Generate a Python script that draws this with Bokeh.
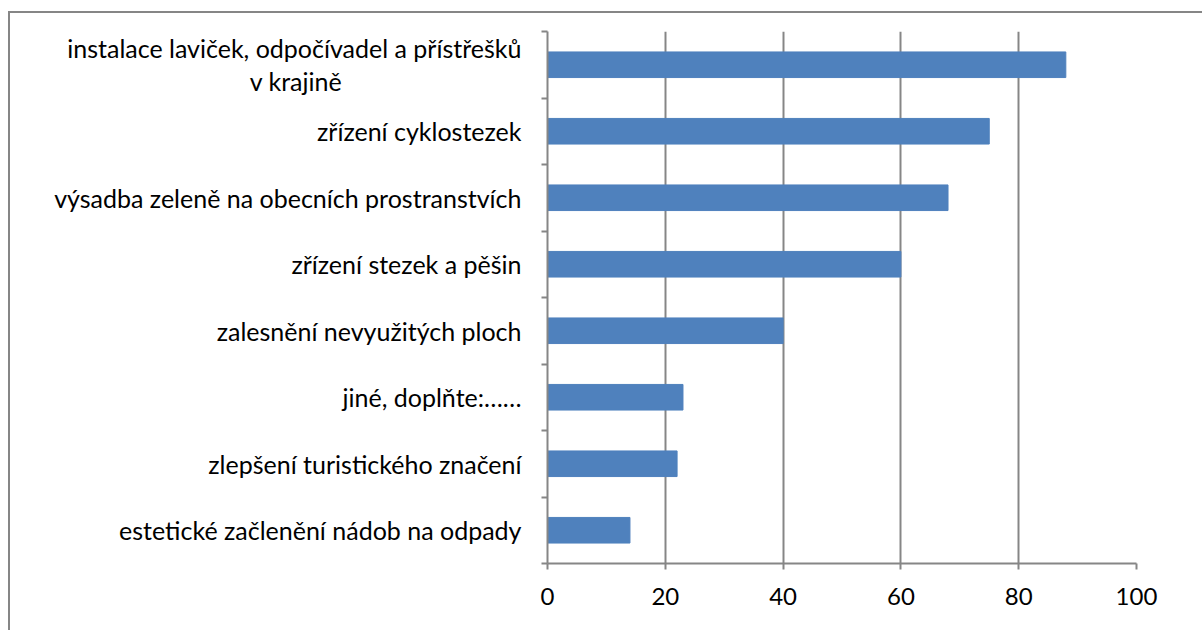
from bokeh.plotting import figure
from bokeh.models import FixedTicker, Range1d
from bokeh.embed import file_html
from bokeh.resources import INLINE

NBSP = "\u00a0"
categories = [
    "instalace laviček, odpočívadel a přístřešků\nv krajině" + NBSP * 28,
    "zřízení cyklostezek",
    "výsadba zeleně na obecních prostranstvích",
    "zřízení stezek a pěšin",
    "zalesnění nevyužitých ploch",
    "jiné, doplňte:……",
    "zlepšení turistického značení",
    "estetické začlenění nádob na odpady",
]
values = [88, 75, 68, 60, 40, 23, 22, 14]
x_ticks = [0, 20, 40, 60, 80, 100]

n = len(categories)
ypos = [n - 0.5 - i for i in range(n)]

FONT = "Lato"
GRID = "#868686"

p = figure(width=1194, height=619, output_backend="svg", toolbar_location=None,
           x_range=Range1d(0, 100), y_range=Range1d(0, n),
           min_border_left=537, min_border_right=68, min_border_top=18, min_border_bottom=69)
p.styles = {"border-left": "2px solid #868686", "border-top": "2px solid #868686",
            "margin-top": "11px", "margin-left": "8px"}
p.outline_line_color = None

p.hbar(y=ypos, right=values, left=0, height=0.385, color="#4F81BD", line_color="#4F81BD")

p.xaxis.ticker = FixedTicker(ticks=x_ticks)
p.xaxis.axis_line_color = GRID
p.xaxis.axis_line_width = 2
p.xaxis.major_tick_line_color = GRID
p.xaxis.major_tick_line_width = 2
p.xaxis.major_tick_out = 6
p.xaxis.major_tick_in = 0
p.xaxis.minor_tick_line_color = None
p.xaxis.major_label_text_font = FONT
p.xaxis.major_label_text_font_size = "24px"
p.xaxis.major_label_text_color = "#000000"
p.xaxis.major_label_standoff = 18

p.yaxis.ticker = FixedTicker(ticks=ypos, minor_ticks=list(range(n + 1)))
p.yaxis.major_label_overrides = {y: c for y, c in zip(ypos, categories)}
p.yaxis.axis_line_color = GRID
p.yaxis.axis_line_width = 2
p.yaxis.major_tick_line_color = None
p.yaxis.major_tick_out = 6
p.yaxis.major_tick_in = 0
p.yaxis.minor_tick_line_color = GRID
p.yaxis.minor_tick_line_width = 2
p.yaxis.minor_tick_out = 6
p.yaxis.minor_tick_in = 0
p.yaxis.major_label_text_font = FONT
p.yaxis.major_label_text_font_size = "25px"
p.yaxis.major_label_text_color = "#000000"
p.yaxis.major_label_text_line_height = 1.1
p.yaxis.major_label_standoff = 20

p.xgrid.ticker = FixedTicker(ticks=x_ticks)
p.xgrid.grid_line_color = GRID
p.xgrid.grid_line_width = 2
p.ygrid.grid_line_color = None

open("out.html", "w").write(file_html(p, INLINE))
